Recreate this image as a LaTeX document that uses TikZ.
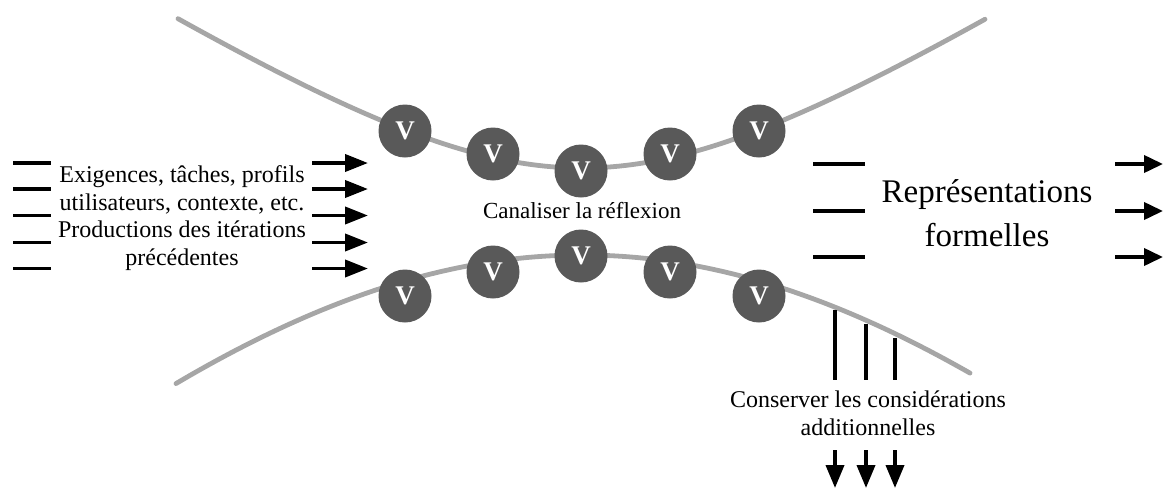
\documentclass[tikz,border=0pt]{standalone}
\usepackage{fontspec}
\setmainfont{Liberation Serif}
\usetikzlibrary{arrows.meta}
\definecolor{curvegray}{HTML}{A6A6A6}
\definecolor{ballgray}{HTML}{595959}
\begin{document}
\begin{tikzpicture}[x=1pt,y=-1pt,
  curve/.style={curvegray, line width=4.8pt, line cap=round},
  ball/.style={circle, fill=ballgray, minimum size=53pt, inner sep=0pt, text=white, font=\fontsize{27}{27}\selectfont\bfseries},
  lbl/.style={align=center, font=\fontsize{24}{27.6}\selectfont, inner sep=0pt},
  tickline/.style={line width=3.8pt},
  arr/.style={line width=3.8pt, -{Triangle[length=23pt,width=17pt]}},
  arrb/.style={line width=3.8pt, -{Triangle[length=19pt,width=17pt]}},
  arrd/.style={line width=3.8pt, -{Triangle[length=23pt,width=18pt]}}
]
\useasboundingbox (0,0) rectangle (1163,488);
% channel curves
\draw[curve] plot[domain=178:985, samples=140] (\x, {168-151*(sqrt(1+((\x-582)/235)^2)-1)});
\draw[curve] plot[domain=176:970, samples=140] (\x, {255+824*(sqrt(1+((\x-582)/700)^2)-1)});
% balls
\node[ball] (t1) at (405,131) {V};
\node[ball] (t2) at (493,154) {V};
\node[ball] (t3) at (581,171) {V};
\node[ball] (t4) at (670,154) {V};
\node[ball] (t5) at (759,131) {V};
\node[ball] (b1) at (405,296) {V};
\node[ball] (b2) at (493,272) {V};
\node[ball] (b3) at (581,256) {V};
\node[ball] (b4) at (670,272) {V};
\node[ball] (b5) at (759,296) {V};
% texts
\node[lbl] (inputs) at (182,218) {Exigences, tâches, profils\\utilisateurs, contexte, etc.\\Productions des itérations\\précédentes};
\node[align=center, inner sep=0pt, font=\fontsize{33}{44}\selectfont] (outputs) at (987,213.5) {Représentations\\formelles};
\node[inner sep=0pt, font=\fontsize{23}{27}\selectfont] (canal) at (582,211) {Canaliser la réflexion};
\node[lbl] (keep) at (868,413) {Conserver les considérations\\additionnelles};
% left inputs
\foreach \y [count=\i] in {163,189,215.5,242.5,268.5} {
  \coordinate (la\i) at (13,\y); \coordinate (lb\i) at (51,\y);
  \coordinate (lc\i) at (312,\y); \coordinate (ld\i) at (368,\y);
  \draw[tickline] (la\i) -- (lb\i);
  \draw[arr] (lc\i) -- (ld\i);
}
% right outputs
\foreach \y [count=\i] in {164,211,257} {
  \coordinate (ra\i) at (813,\y); \coordinate (rb\i) at (865,\y);
  \coordinate (rc\i) at (1115,\y); \coordinate (rd\i) at (1163,\y);
  \draw[tickline] (ra\i) -- (rb\i);
  \draw[arrb] (rc\i) -- (rd\i);
}
% kept considerations
\foreach \x/\t [count=\i] in {835/310,866/324,895/338} {
  \coordinate (ka\i) at (\x,\t); \coordinate (kb\i) at (\x,380);
  \coordinate (kc\i) at (\x,450); \coordinate (kd\i) at (\x,488);
  \draw[tickline] (ka\i) -- (kb\i);
  \draw[arrd] (kc\i) -- (kd\i);
}
\end{tikzpicture}
\end{document}
